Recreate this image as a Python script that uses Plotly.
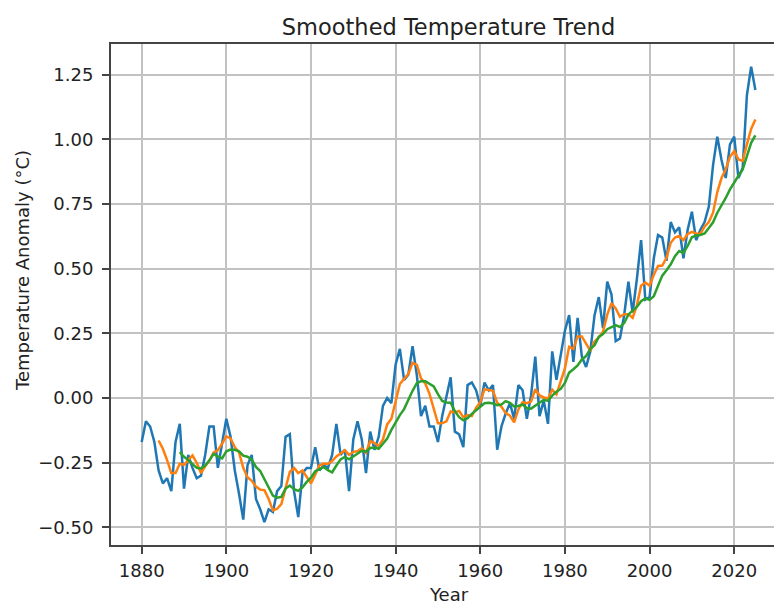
import plotly.graph_objects as go

# Annual temperature anomaly (°C), 1880-2025
years = list(range(1880, 2026))
annual = [
    -0.17, -0.09, -0.11, -0.17, -0.28, -0.33, -0.31, -0.36, -0.17, -0.10,
    -0.35, -0.22, -0.27, -0.31, -0.30, -0.22, -0.11, -0.11, -0.27, -0.17,
    -0.08, -0.15, -0.28, -0.37, -0.47, -0.26, -0.22, -0.39, -0.43, -0.48,
    -0.43, -0.44, -0.36, -0.34, -0.15, -0.14, -0.36, -0.46, -0.29, -0.27,
    -0.27, -0.19, -0.28, -0.26, -0.27, -0.22, -0.10, -0.22, -0.20, -0.36,
    -0.16, -0.09, -0.16, -0.29, -0.13, -0.20, -0.15, -0.03, 0.00, -0.02,
    0.13, 0.19, 0.07, 0.09, 0.20, 0.09, -0.07, -0.03, -0.11, -0.11,
    -0.17, -0.07, 0.01, 0.08, -0.13, -0.14, -0.19, 0.05, 0.06, 0.03,
    -0.03, 0.06, 0.03, 0.05, -0.20, -0.11, -0.06, -0.02, -0.08, 0.05,
    0.03, -0.08, 0.01, 0.16, -0.07, -0.01, -0.10, 0.18, 0.07, 0.16,
    0.26, 0.32, 0.14, 0.31, 0.16, 0.12, 0.18, 0.32, 0.39, 0.27,
    0.45, 0.40, 0.22, 0.23, 0.32, 0.45, 0.33, 0.46, 0.61, 0.38,
    0.39, 0.54, 0.63, 0.62, 0.53, 0.68, 0.64, 0.66, 0.54, 0.65,
    0.72, 0.61, 0.65, 0.68, 0.74, 0.90, 1.01, 0.92, 0.85, 0.98,
    1.01, 0.85, 0.89, 1.17, 1.28, 1.19,
]

# 5-year smoothed series, 1884-2025
years_5 = list(range(1884, 2026))
smooth_5 = [
    -0.164, -0.196, -0.240, -0.290, -0.290, -0.254,
    -0.258, -0.240, -0.222, -0.250, -0.290, -0.264, -0.242, -0.210, -0.202, -0.176,
    -0.148, -0.156, -0.190, -0.210, -0.270, -0.306, -0.320, -0.342, -0.354, -0.356,
    -0.390, -0.434, -0.428, -0.410, -0.344, -0.286, -0.270, -0.290, -0.280, -0.304,
    -0.330, -0.296, -0.260, -0.254, -0.254, -0.244, -0.226, -0.214, -0.202, -0.220,
    -0.208, -0.206, -0.194, -0.212, -0.166, -0.174, -0.186, -0.160, -0.102, -0.080,
    -0.014, 0.054, 0.074, 0.092, 0.136, 0.128, 0.076, 0.056, 0.016, -0.046,
    -0.098, -0.098, -0.090, -0.052, -0.056, -0.050, -0.074, -0.066, -0.070, -0.038,
    -0.016, 0.034, 0.030, 0.028, -0.018, -0.034, -0.058, -0.068, -0.094, -0.044,
    -0.016, -0.020, -0.014, 0.034, 0.010, 0.002, -0.002, 0.032, 0.014, 0.060,
    0.114, 0.198, 0.190, 0.238, 0.238, 0.210, 0.182, 0.218, 0.234, 0.256,
    0.322, 0.366, 0.346, 0.314, 0.324, 0.324, 0.310, 0.358, 0.434, 0.446,
    0.434, 0.476, 0.510, 0.512, 0.542, 0.600, 0.620, 0.626, 0.610, 0.634,
    0.642, 0.636, 0.634, 0.662, 0.680, 0.716, 0.796, 0.850, 0.884, 0.932,
    0.954, 0.922, 0.916, 0.980, 1.040, 1.076,
]

# 10-year smoothed series, 1889-2025
years_10 = list(range(1889, 2026))
smooth_10 = [
    -0.209,
    -0.227, -0.240, -0.256, -0.270, -0.272, -0.261, -0.241, -0.216, -0.226, -0.233,
    -0.206, -0.199, -0.200, -0.206, -0.223, -0.227, -0.238, -0.266, -0.282, -0.313,
    -0.348, -0.377, -0.385, -0.382, -0.350, -0.338, -0.352, -0.359, -0.345, -0.324,
    -0.308, -0.283, -0.275, -0.267, -0.279, -0.287, -0.261, -0.237, -0.228, -0.237,
    -0.226, -0.216, -0.204, -0.207, -0.193, -0.191, -0.196, -0.177, -0.157, -0.123,
    -0.094, -0.066, -0.043, -0.005, 0.028, 0.057, 0.065, 0.065, 0.054, 0.045,
    0.015, -0.011, -0.017, -0.018, -0.051, -0.074, -0.086, -0.078, -0.061, -0.047,
    -0.033, -0.020, -0.018, -0.021, -0.028, -0.025, -0.012, -0.019, -0.033, -0.031,
    -0.025, -0.039, -0.041, -0.030, -0.017, -0.007, -0.011, 0.009, 0.024, 0.035,
    0.058, 0.098, 0.111, 0.126, 0.149, 0.162, 0.190, 0.204, 0.236, 0.247,
    0.266, 0.274, 0.282, 0.274, 0.290, 0.323, 0.338, 0.352, 0.374, 0.385,
    0.379, 0.393, 0.434, 0.473, 0.494, 0.517, 0.548, 0.568, 0.561, 0.588,
    0.621, 0.628, 0.630, 0.636, 0.657, 0.679, 0.716, 0.742, 0.773, 0.806,
    0.835, 0.859, 0.883, 0.932, 0.986, 1.015,
]

x_ticks = [1880, 1900, 1920, 1940, 1960, 1980, 2000, 2020]
y_ticks = [-0.50, -0.25, 0.00, 0.25, 0.50, 0.75, 1.00, 1.25]
y_tick_text = ["\u22120.50", "\u22120.25", "0.00", "0.25", "0.50", "0.75", "1.00", "1.25"]

FONT = "DejaVu Sans"
LW = 2.5
W, H = 774, 605
L, T, B = 111, 44, 60
PW, PH = W - L, H - T - B

fig = go.Figure()
fig.add_trace(go.Scatter(x=years, y=annual, mode="lines",
                         line=dict(color="#1f77b4", width=LW), name="Annual"))
fig.add_trace(go.Scatter(x=years_5, y=smooth_5, mode="lines",
                         line=dict(color="#ff7f0e", width=LW), name="5-year"))
fig.add_trace(go.Scatter(x=years_10, y=smooth_10, mode="lines",
                         line=dict(color="#2ca02c", width=LW), name="10-year"))

axis_common = dict(
    showgrid=True, gridcolor="#c2c2c2", gridwidth=2,
    showline=True, linecolor="#444444", linewidth=2,
    ticks="outside", ticklen=7, tickwidth=2, tickcolor="#444444",
    tickfont=dict(family=FONT, size=18, color="#222222"),
    zeroline=False,
)

fig.update_layout(
    width=W, height=H,
    margin=dict(l=L, r=0, t=T, b=B),
    paper_bgcolor="white", plot_bgcolor="white",
    showlegend=False,
    hovermode=False,
    title=dict(text="Smoothed Temperature Trend",
               font=dict(family=FONT, size=22.5, color="#222222"),
               xref="container", yref="container",
               x=448.5 / W, y=1 - 27 / H,
               xanchor="center", yanchor="middle"),
    xaxis=dict(range=[1872.75, 2029.4], tickvals=x_ticks,
               mirror=True, ticklabelstandoff=1, **axis_common),
    yaxis=dict(range=[-0.568, 1.368], tickvals=y_ticks, ticktext=y_tick_text,
               mirror=False, ticklabelstandoff=5, **axis_common),
    annotations=[
        dict(text="Year", xref="paper", yref="paper",
             x=(448.5 - L) / PW, y=((H - B) - 594) / PH,
             xanchor="center", yanchor="middle", showarrow=False,
             font=dict(family=FONT, size=18, color="#222222")),
        dict(text="Temperature Anomaly (\u00b0C)", xref="paper", yref="paper",
             x=(22 - L) / PW, y=((H - B) - 271) / PH, textangle=-90,
             xanchor="center", yanchor="middle", showarrow=False,
             font=dict(family=FONT, size=18, color="#222222")),
    ],
)

fig.write_html("out.html",
               config={"displayModeBar": False, "staticPlot": True},
               post_script="document.body.style.margin='0';"
                           "document.body.style.overflow='hidden';")
